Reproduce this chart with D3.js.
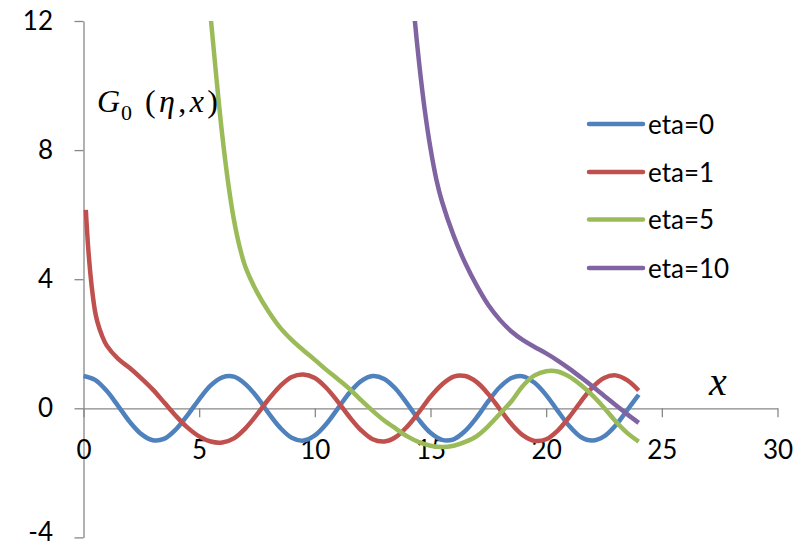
<!DOCTYPE html>
<html>
<head>
<meta charset="utf-8">
<script src="https://cdn.jsdelivr.net/npm/d3@7"></script>
<style>
  html, body { margin: 0; padding: 0; background: #ffffff; }
  svg { display: block; }
</style>
</head>
<body>
<svg id="chart" width="810" height="546"></svg>
<script>
// Coulomb irregular wave function G0(eta, x) for several eta values

const xTicks = [0, 5, 10, 15, 20, 25, 30];
const yTicks = [-4, 0, 4, 8, 12];

const seriesNames = ["eta=0", "eta=1", "eta=5", "eta=10"];
const seriesColors = ["#4F81BD", "#C0504D", "#9BBB59", "#8064A2"];

// eta = 0
const xEta0 = [0, 0.5, 1, 1.5, 2, 2.5, 3, 3.5, 4, 4.5, 5, 5.5, 6, 6.5, 7, 7.5, 8, 8.5, 9, 9.5,
  10, 10.5, 11, 11.5, 12, 12.5, 13, 13.5, 14, 14.5, 15, 15.5, 16, 16.5, 17, 17.5, 18, 18.5, 19, 19.5,
  20, 20.5, 21, 21.5, 22, 22.5, 23, 23.5, 24];
const gEta0 = [1.00, 0.88, 0.54, 0.07, -0.42, -0.80, -0.99, -0.94, -0.65, -0.21, 0.28, 0.71, 0.96, 0.98, 0.75, 0.35, -0.15, -0.60, -0.91, -1.00,
  -0.84, -0.48, 0.00, 0.48, 0.84, 1.00, 0.91, 0.60, 0.14, -0.36, -0.76, -0.98, -0.96, -0.70, -0.28, 0.22, 0.66, 0.94, 0.99, 0.79,
  0.41, -0.08, -0.55, -0.89, -1.00, -0.87, -0.53, -0.06, 0.42];

// eta = 1
const xEta1 = [0.1, 0.2, 0.3, 0.4, 0.5, 0.6, 0.8, 1, 1.5, 2, 2.5, 3, 3.5, 4, 4.5, 5, 5.5, 6, 6.5, 7, 7.5, 8, 8.5, 9, 9.5,
  10, 10.5, 11, 11.5, 12, 12.5, 13, 13.5, 14, 14.5, 15, 15.5, 16, 16.5, 17, 17.5, 18, 18.5, 19, 19.5,
  20, 20.5, 21, 21.5, 22, 22.5, 23, 23.5, 24];
const gEta1 = [6.15, 5.00, 4.15, 3.50, 3.00, 2.68, 2.25, 1.95, 1.53, 1.25, 0.93, 0.58, 0.17, -0.24, -0.60, -0.87, -1.03, -1.06, -0.93, -0.62, -0.19, 0.28, 0.69, 0.97, 1.05,
  0.94, 0.63, 0.20, -0.27, -0.68, -0.96, -1.03, -0.89, -0.56, -0.12, 0.36, 0.74, 0.98, 1.00, 0.81, 0.44, -0.03, -0.49, -0.84, -1.01,
  -0.96, -0.69, -0.27, 0.21, 0.65, 0.94, 1.02, 0.87, 0.55];

// eta = 5
const xEta5 = [5, 5.25, 5.5, 5.75, 6, 6.25, 6.5, 6.75, 7, 7.5, 8, 8.5, 9, 9.5,
  10, 10.5, 11, 11.5, 12, 12.5, 13, 13.5, 14, 14.5, 15, 15.5, 16, 16.5, 17, 17.5, 18, 18.5, 19, 19.5,
  20, 20.5, 21, 21.5, 22, 22.5, 23, 23.5, 24];
const gEta5 = [17.0, 14.3, 12.1, 10.2, 8.45, 7.00, 5.85, 5.00, 4.38, 3.60, 3.00, 2.50, 2.12, 1.80,
  1.50, 1.19, 0.90, 0.60, 0.25, -0.08, -0.38, -0.63, -0.87, -1.05, -1.16, -1.20, -1.16, -1.04, -0.86, -0.55, -0.17, 0.22, 0.70, 1.02,
  1.15, 1.14, 0.98, 0.72, 0.40, 0.02, -0.40, -0.76, -1.03];

// eta = 10
const xEta10 = [14, 14.25, 14.5, 14.75, 15, 15.25, 15.5, 16, 16.5, 17, 17.5, 18, 18.5, 19, 19.5,
  20, 20.5, 21, 21.5, 22, 22.5, 23, 23.5, 24];
const gEta10 = [15.0, 12.6, 10.75, 9.25, 8.05, 7.10, 6.40, 5.35, 4.50, 3.80, 3.20, 2.74, 2.38, 2.11, 1.90,
  1.70, 1.48, 1.23, 0.96, 0.68, 0.39, 0.10, -0.18, -0.45];

const seriesX = [xEta0, xEta1, xEta5, xEta10];
const seriesY = [gEta0, gEta1, gEta5, gEta10];

const svg = d3.select("#chart");

const x = d3.scaleLinear().domain([0, 30]).range([83.5, 777.5]);
const y = d3.scaleLinear().domain([-4, 12]).range([537.4, 21]);

const axisColor = "#888888";
const tickFont = "Lato, 'Open Sans', sans-serif";

// clip region for the curves
svg.append("defs").append("clipPath").attr("id", "plotClip")
  .append("rect")
  .attr("x", x(0) - 10).attr("y", y(12))
  .attr("width", x(30) - x(0) + 20).attr("height", y(-4) - y(12));

// y axis
const yAxis = svg.append("g")
  .attr("transform", `translate(${x(0)},0)`)
  .call(d3.axisLeft(y).tickValues(yTicks).tickSize(9).tickSizeOuter(0).tickFormat(d => String(d)));
yAxis.select(".domain").attr("stroke", axisColor).attr("stroke-width", 1.3);
yAxis.selectAll(".tick line").attr("stroke", axisColor).attr("stroke-width", 1.3);
yAxis.selectAll(".tick text")
  .attr("x", -30.5).attr("dy", 0)
  // the lowest label sits against the bottom edge, so it is lifted to stay inside
  .attr("y", d => d === yTicks[0] ? 3 : 8.2)
  .attr("fill", "#000").style("font-family", tickFont).style("font-size", "26px");

// x axis through y = 0
const xAxis = svg.append("g")
  .attr("transform", `translate(0,${y(0)})`)
  .call(d3.axisBottom(x).tickValues(xTicks).tickSize(9).tickSizeOuter(0).tickFormat(d => String(d)));
xAxis.select(".domain").attr("stroke", axisColor).attr("stroke-width", 1.3);
xAxis.selectAll(".tick line").attr("stroke", axisColor).attr("stroke-width", 1.3);
xAxis.selectAll(".tick text")
  .attr("dy", 0).attr("y", 51)
  .attr("fill", "#000").style("font-family", tickFont).style("font-size", "26px");

// curves
const line = d3.line()
  .x(d => x(d[0]))
  .y(d => y(d[1]))
  .curve(d3.curveCatmullRom.alpha(0.5));

const curves = svg.append("g").attr("clip-path", "url(#plotClip)");
seriesNames.forEach((name, i) => {
  const pts = seriesX[i].map((xv, j) => [xv, seriesY[i][j]]);
  curves.append("path")
    .datum(pts)
    .attr("d", line)
    .attr("fill", "none")
    .attr("stroke", seriesColors[i])
    .attr("stroke-width", 4.5)
    .attr("stroke-linejoin", "round")
    .attr("stroke-linecap", "butt");
});

// legend
const legend = svg.append("g");
const legendY = [124, 172, 219.5, 268];
seriesNames.forEach((name, i) => {
  legend.append("line")
    .attr("x1", 589).attr("x2", 643)
    .attr("y1", legendY[i]).attr("y2", legendY[i])
    .attr("stroke", seriesColors[i]).attr("stroke-width", 4.5)
    .attr("stroke-linecap", "round");
  legend.append("text")
    .attr("x", 648).attr("y", legendY[i] + 9.5)
    .attr("fill", "#000")
    .style("font-family", tickFont).style("font-size", "26px")
    .text(name);
});

// function label G0(η,x)
const mathFont = "'Liberation Serif', 'DejaVu Serif', serif";
const gLabel = svg.append("g").style("font-family", mathFont).attr("fill", "#000");
gLabel.append("text").attr("x", 97).attr("y", 112)
  .style("font-size", "32px").style("font-style", "italic").text("G");
gLabel.append("text").attr("x", 121).attr("y", 120)
  .style("font-size", "22px").text("0");
const args = gLabel.append("text").attr("x", 145).attr("y", 112)
  .style("font-size", "32px")
  .attr("textLength", 73).attr("lengthAdjust", "spacing");
args.append("tspan").text("(");
args.append("tspan").style("font-style", "italic").text("η");
args.append("tspan").text(",");
args.append("tspan").style("font-style", "italic").text("x");
args.append("tspan").text(")");

// x axis label
svg.append("text")
  .attr("x", 709).attr("y", 395)
  .style("font-family", mathFont).style("font-size", "40px").style("font-style", "italic")
  .attr("fill", "#000")
  .text("x");
</script>
</body>
</html>
